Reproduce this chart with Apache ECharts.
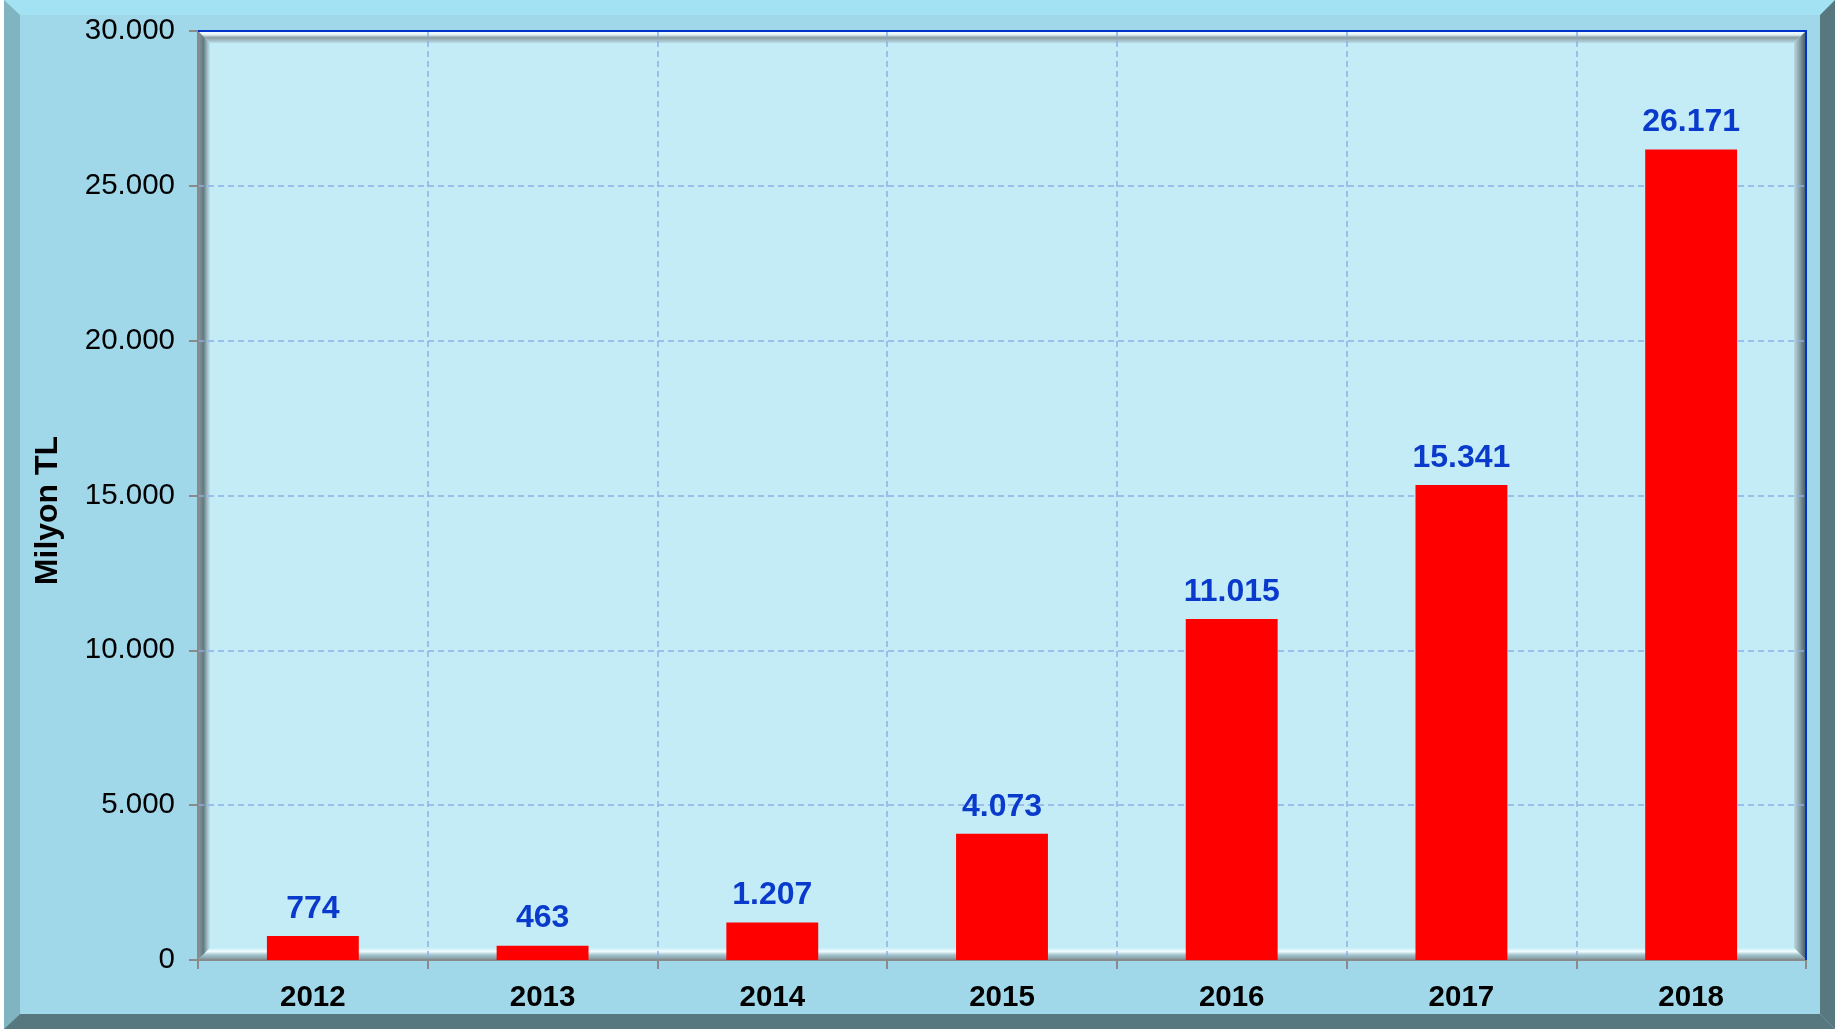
<!DOCTYPE html>
<html><head><meta charset="utf-8">
<script src="https://cdn.jsdelivr.net/npm/echarts@6/dist/echarts.min.js"></script>
<style>html,body{margin:0;padding:0;background:#a0d8ea;}#c{width:1835px;height:1029px;}</style>
</head><body><div id="c"></div>
<script>
const categories = ['2012','2013','2014','2015','2016','2017','2018'];
const values = [774, 463, 1207, 4073, 11015, 15341, 26171];
const yTicks = [0, 5000, 10000, 15000, 20000, 25000, 30000];

function fmt(v){ return String(v).replace(/\B(?=(\d{3})+(?!\d))/g, '.'); }

const W = 1835, H = 1029;
const L = 198, T = 31, R = 1806, B = 960, BW = 12;
const chart = echarts.init(document.getElementById('c'));
chart.setOption({
  backgroundColor: '#a0d8ea',
  animation: false,
  textStyle: { fontFamily: 'Liberation Sans, Arial, sans-serif' },
  graphic: [
    { type: 'rect', z: -10, silent: true, shape: { x: 0, y: 0, width: W, height: 15 }, style: { fill: '#a3e2f2' } },
    { type: 'polygon', z: -9, silent: true, shape: { points: [[0,0],[4,0],[20,15],[20,1014],[4,1029],[0,1029]] }, style: { fill: '#80b4c0' } },
    { type: 'rect', z: -9, silent: true, shape: { x: 0, y: 0, width: 4, height: H }, style: { fill: '#ffffff' } },
    { type: 'polygon', z: -8, silent: true, shape: { points: [[4,1029],[20,1014],[1820,1014],[1835,1029]] }, style: { fill: '#587880' } },
    { type: 'polygon', z: -8, silent: true, shape: { points: [[1820,15],[1835,0],[1835,1029],[1820,1014]] }, style: { fill: '#587880' } },
    { type: 'polygon', z: 1, silent: true, shape: { points: [[L,T],[R,T],[R-BW,T+BW],[L+BW,T+BW]] },
      style: { fill: new echarts.graphic.LinearGradient(0,0,0,1,[{offset:0,color:'#ffffff'},{offset:0.3,color:'#dff4f8'},{offset:0.55,color:'#8c9ea4'},{offset:1,color:'#b8dce6'}]) } },
    { type: 'polygon', z: 1, silent: true, shape: { points: [[L,T],[L+BW,T+BW],[L+BW,B-BW],[L,B]] },
      style: { fill: new echarts.graphic.LinearGradient(0,0,1,0,[{offset:0,color:'#8a9aa0'},{offset:0.45,color:'#627a82'},{offset:0.75,color:'#9cb8c0'},{offset:1,color:'#c0e4ee'}]) } },
    { type: 'polygon', z: 1, silent: true, shape: { points: [[R,T],[R,B],[R-BW,B-BW],[R-BW,T+BW]] },
      style: { fill: new echarts.graphic.LinearGradient(0,0,1,0,[{offset:0,color:'#b8d8e0'},{offset:0.4,color:'#90a8b0'},{offset:0.8,color:'#5a7078'},{offset:1,color:'#4a6068'}]) } },
    { type: 'polygon', z: 1, silent: true, shape: { points: [[L,B],[L+BW,B-BW],[R-BW,B-BW],[R,B]] },
      style: { fill: new echarts.graphic.LinearGradient(0,0,0,1,[{offset:0,color:'#c8eef6'},{offset:0.3,color:'#f0fcff'},{offset:0.55,color:'#a8c8d0'},{offset:1,color:'#7a9098'}]) } },
    { type: 'line', z: 100, silent: true, shape: { x1: L, y1: T, x2: R + 1, y2: T }, style: { stroke: '#0033cc', lineWidth: 2 } },
    { type: 'line', z: 100, silent: true, shape: { x1: R, y1: T, x2: R, y2: B }, style: { stroke: '#0033cc', lineWidth: 2 } }
  ],
  grid: { left: L, top: T, right: W - R, bottom: H - B, show: true, backgroundColor: '#c4ecf6', borderWidth: 0 },
  xAxis: {
    type: 'category',
    data: categories,
    axisLine: { show: true, lineStyle: { color: '#8a8a8a', width: 2 } },
    axisTick: { show: true, length: 9, lineStyle: { color: '#8a8a8a', width: 2 } },
    axisLabel: { color: '#000', fontSize: 29.5, fontWeight: 'bold', margin: 23, interval: 0 },
    splitLine: { show: true, interval: 0, lineStyle: { color: '#8cb0e8', type: [6, 4], width: 1.5 } },
    z: 4
  },
  yAxis: {
    type: 'value',
    min: 0, max: 30000, interval: 5000,
    name: 'Milyon TL',
    nameLocation: 'middle',
    nameGap: 134,
    nameTextStyle: { color: '#000', fontSize: 32, fontWeight: 'bold', padding: [0, 30, 0, 0] },
    axisLine: { show: true, lineStyle: { color: '#8a8a8a', width: 2 } },
    axisTick: { show: true, length: 9, lineStyle: { color: '#8a8a8a', width: 2 } },
    axisLabel: { color: '#000', fontSize: 29.5, margin: 23, formatter: v => yTicks.includes(v) ? fmt(v) : '' },
    splitLine: { show: true, lineStyle: { color: '#8cb0e8', type: [6, 4], width: 1.5 } },
    z: 4
  },
  series: [{
    type: 'bar',
    data: values,
    barWidth: '40%',
    z: 5,
    itemStyle: { color: '#ff0000' },
    label: { show: true, position: 'top', distance: 11, color: '#0a3acc', fontSize: 32, fontWeight: 'bold', formatter: p => fmt(p.value) }
  }]
});
</script></body></html>
